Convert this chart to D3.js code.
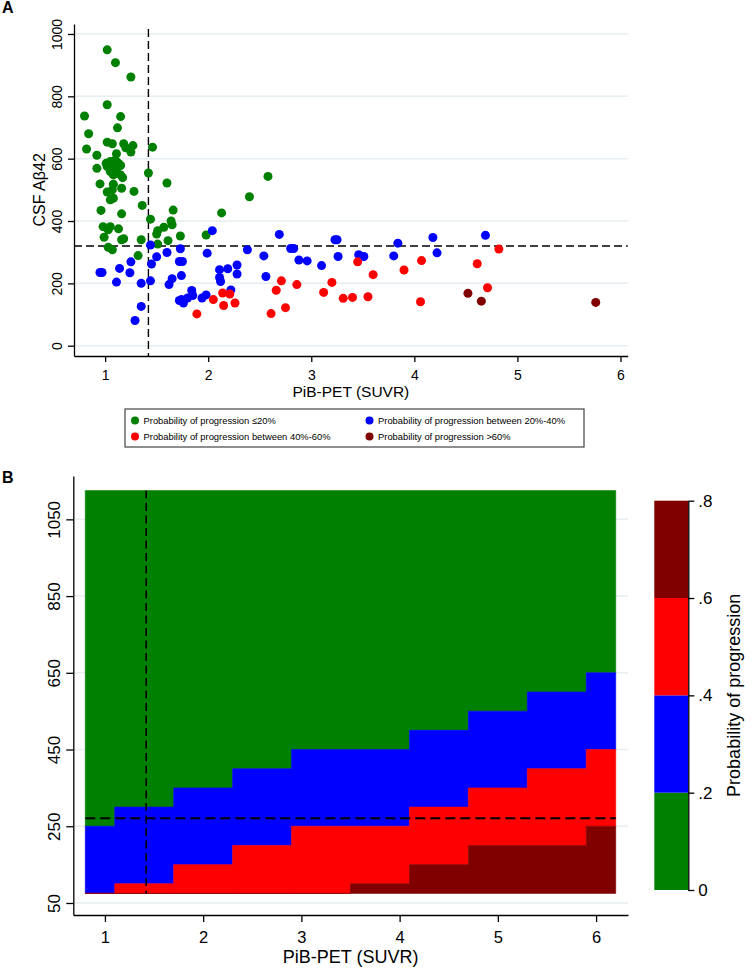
<!DOCTYPE html>
<html>
<head>
<meta charset="utf-8">
<script src="https://cdn.jsdelivr.net/npm/d3@7"></script>
<style>
  body { margin: 0; background: #fff; }
  text { font-family: "Liberation Sans", Arial, sans-serif; fill: #000; }
</style>
</head>
<body>
<svg id="chart" width="753" height="970"></svg>
<script>
// panel A : [PiB-PET SUVR, CSF Abeta42]
const lowRisk = [
  [1.02,949],[1.10,908],[1.25,862],[1.02,773],[0.80,737],[1.15,735],[1.12,699],[0.84,680],
  [1.02,653],[1.07,648],[1.18,648],[1.27,642],[1.20,635],[0.82,631],[1.46,637],[1.25,621],
  [1.11,616],[0.92,611],[1.05,591],[1.10,596],[1.07,580],[1.13,585],[1.02,575],[1.15,578],
  [1.11,564],[1.05,559],[1.10,553],[1.15,548],[1.08,548],[1.17,539],[1.01,585],[0.92,569],
  [1.42,554],[1.60,522],[0.95,519],[2.58,543],[2.40,478],[1.08,518],[1.16,505],[1.02,493],
  [1.07,500],[1.28,495],[1.05,468],[1.08,473],[1.36,450],[0.96,434],[1.16,423],[2.13,426],
  [1.66,435],[1.44,406],[1.64,400],[1.65,388],[0.98,382],[1.05,382],[1.03,372],[1.13,375],
  [1.51,369],[1.50,358],[1.57,380],[0.99,348],[1.18,343],[1.16,340],[1.35,340],[1.61,337],
  [1.73,352],[1.98,355],[1.51,326],[1.03,316],[1.07,308],[1.32,289]
]
const midRisk = [
  [2.04,369],[2.69,357],[3.23,340],[3.25,340],[1.44,323],[1.73,311],[2.38,308],[2.80,312],
  [2.83,312],[1.60,299],[1.99,297],[1.50,285],[2.54,288],[2.88,275],[2.96,272],[3.26,286],
  [3.46,292],[3.51,286],[1.25,269],[1.45,262],[1.72,270],[1.75,270],[3.10,257],[2.28,259],
  [0.97,235],[0.95,235],[1.14,248],[1.24,234],[2.11,244],[2.19,247],[2.11,219],[2.12,206],
  [2.28,230],[1.74,225],[2.56,222],[1.65,215],[1.44,208],[1.11,204],[1.35,200],[1.62,196],
  [1.84,177],[1.85,161],[1.80,153],[1.74,148],[1.76,137],[1.72,145],[1.94,153],[1.98,163],
  [2.22,179],[1.35,126],[1.29,81],[3.84,329],[3.80,288],[4.18,347],[4.22,298],[4.69,354]
]
const highRisk = [
  [3.45,269],[2.71,208],[3.20,203],[2.86,196],[2.66,178],[2.14,169],[2.21,166],[3.12,171],
  [2.05,148],[3.31,152],[3.40,155],[2.26,137],[2.15,129],[2.75,122],[1.89,102],[2.61,103],
  [3.55,157],[3.60,228],[3.90,243],[4.07,273],[4.06,141],[4.61,263],[4.71,186],[4.82,310]
]
const veryHighRisk = [[4.52,168],[4.65,143],[5.76,139]]

const legendLabels = [
  'Probability of progression \u226420%',
  'Probability of progression between 20%-40%',
  'Probability of progression between 40%-60%',
  'Probability of progression >60%'
]
const colors = ['#008000', '#0000ff', '#ff0000', '#800000']

const pibCut = 1.42
const csfCutA = 320
const csfCutB = 271

const xTicks = [1, 2, 3, 4, 5, 6]
const yTicksA = [0, 200, 400, 600, 800, 1000]
const yTicksB = [50, 250, 450, 650, 850, 1050]

// panel B : predicted probability grid, one column per PiB value
const gridPib = [0.8, 1.4, 2.0, 2.6, 3.2, 3.8, 4.4, 5.0, 5.6, 6.2]
const gridLow = 75, gridHigh = 1125
const darkTop = [75, 75, 75, 75, 75, 100, 150, 200, 200, 250]   // >.6
const redTop  = [75, 100, 150, 200, 250, 250, 300, 350, 400, 450] // .4-.6
const blueTop = [250, 300, 350, 400, 450, 450, 500, 550, 600, 650] // .2-.4

const barBreaks = [0, 0.2, 0.4, 0.6, 0.8]
const barLabels = ['0', '.2', '.4', '.6', '.8']

const svg = d3.select('#chart')
const gridColor = '#e6eef1'
const fmt = d3.format('d')

// ---------------- panel A ----------------
const xA = d3.scaleLinear().domain([0.698, 6.07]).range([74, 627.7])
const yA = d3.scaleLinear().domain([-33, 1032]).range([356, 24])

const gA = svg.append('g')
gA.selectAll('line.grid')
  .data(yTicksA)
  .enter().append('line')
  .attr('x1', xA.range()[0]).attr('x2', xA.range()[1])
  .attr('y1', d => yA(d)).attr('y2', d => yA(d))
  .attr('stroke', gridColor).attr('stroke-width', 1.5)

const axA = gA.append('g')
  .attr('transform', `translate(${xA.range()[0]},0)`)
  .call(d3.axisLeft(yA).tickValues(yTicksA).tickFormat(fmt).tickSize(6).tickSizeOuter(0))
axA.selectAll('text')
  .attr('transform', 'rotate(-90)')
  .attr('x', 0).attr('y', -12.5).attr('dy', 0)
  .attr('text-anchor', 'middle')
  .style('font-size', '14px')
  .style('font-family', '"Liberation Sans", Arial, sans-serif')

const axAx = gA.append('g')
  .attr('transform', `translate(0,${yA.range()[0]})`)
  .call(d3.axisBottom(xA).tickValues(xTicks).tickFormat(fmt).tickSize(6).tickSizeOuter(0))
axAx.selectAll('text')
  .attr('y', 14)
  .style('font-size', '14px')
  .style('font-family', '"Liberation Sans", Arial, sans-serif')

gA.append('text')
  .attr('x', (xA.range()[0] + xA.range()[1]) / 2).attr('y', 397)
  .attr('text-anchor', 'middle').style('font-size', '15.5px')
  .text('PiB-PET (SUVR)')
gA.append('text')
  .attr('transform', `translate(45,${yA(500)}) rotate(-90)`)
  .attr('text-anchor', 'middle').style('font-size', '16px')
  .text('CSF A\u03b242')

// reference lines
gA.append('line')
  .attr('x1', xA(pibCut)).attr('x2', xA(pibCut))
  .attr('y1', 29).attr('y2', yA.range()[0])
  .attr('stroke', '#000').attr('stroke-width', 1.4).attr('stroke-dasharray', '8,4')
gA.append('line')
  .attr('x1', xA.range()[0]).attr('x2', xA.range()[1])
  .attr('y1', yA(csfCutA)).attr('y2', yA(csfCutA))
  .attr('stroke', '#000').attr('stroke-width', 1.4).attr('stroke-dasharray', '8,4')

const groups = [lowRisk, midRisk, highRisk, veryHighRisk]
groups.forEach((pts, i) => {
  gA.append('g').selectAll('circle')
    .data(pts)
    .enter().append('circle')
    .attr('cx', d => xA(d[0]))
    .attr('cy', d => yA(d[1]))
    .attr('r', 4.5)
    .attr('fill', colors[i])
})

// legend
const lg = svg.append('g')
lg.append('rect')
  .attr('x', 125).attr('y', 409).attr('width', 459).attr('height', 38)
  .attr('fill', '#fff').attr('stroke', '#444').attr('stroke-width', 1.2)
legendLabels.forEach((t, i) => {
  const cx = i % 2 === 0 ? 135 : 369.5
  const cy = i < 2 ? 420.5 : 436.5
  lg.append('circle').attr('cx', cx).attr('cy', cy).attr('r', 4).attr('fill', colors[i])
  lg.append('text').attr('x', cx + 8.5).attr('y', cy).attr('dy', '0.35em')
    .style('font-size', '9.4px').text(t)
})

// panel labels
svg.append('text').attr('x', 2).attr('y', 13).style('font-size', '16px')
  .style('font-weight', 'bold').text('A')
svg.append('text').attr('x', 2).attr('y', 483).style('font-size', '16px')
  .style('font-weight', 'bold').text('B')

// ---------------- panel B ----------------
const xB = d3.scaleLinear().domain([0.678, 6.325]).range([73.3, 628])
const yB = d3.scaleLinear().domain([18.7, 1163]).range([915, 476])

const gB = svg.append('g')
gB.selectAll('line.grid')
  .data(yTicksB)
  .enter().append('line')
  .attr('x1', xB.range()[0]).attr('x2', xB.range()[1])
  .attr('y1', d => yB(d)).attr('y2', d => yB(d))
  .attr('stroke', gridColor).attr('stroke-width', 1.5)

// contour cells, drawn as one step-shaped band per colour
const half = (gridPib[1] - gridPib[0]) / 2
const edges = gridPib.map((p, i) => [Math.max(gridPib[0], p - half),
  Math.min(gridPib[gridPib.length - 1], p + half)])
function bandPath(lower, upper) {
  const top = [], bottom = []
  edges.forEach((e, i) => {
    top.push([xB(e[0]), yB(upper[i])], [xB(e[1]), yB(upper[i])])
    bottom.push([xB(e[0]), yB(lower[i])], [xB(e[1]), yB(lower[i])])
  })
  return d3.line()(top.concat(bottom.reverse())) + 'Z'
}
const lowArr = gridPib.map(() => gridLow)
const highArr = gridPib.map(() => gridHigh)
const bands = [
  [blueTop, highArr],
  [redTop, blueTop],
  [darkTop, redTop],
  [lowArr, darkTop]
]
gB.append('g').selectAll('path')
  .data(bands)
  .enter().append('path')
  .attr('d', d => bandPath(d[0], d[1]))
  .attr('fill', (d, i) => colors[i])
  .attr('stroke', (d, i) => colors[i])
  .attr('stroke-width', 0.6)
  .attr('stroke-linejoin', 'miter')

const axB = gB.append('g')
  .attr('transform', `translate(${xB.range()[0]},0)`)
  .call(d3.axisLeft(yB).tickValues(yTicksB).tickFormat(fmt).tickSize(7).tickSizeOuter(0))
axB.selectAll('text')
  .attr('transform', 'rotate(-90)')
  .attr('x', 0).attr('y', -13.5).attr('dy', 0)
  .attr('text-anchor', 'middle')
  .style('font-size', '17px')
  .style('font-family', '"Liberation Sans", Arial, sans-serif')

const axBx = gB.append('g')
  .attr('transform', `translate(0,${yB.range()[0]})`)
  .call(d3.axisBottom(xB).tickValues(xTicks).tickFormat(fmt).tickSize(7).tickSizeOuter(0))
axBx.selectAll('text')
  .attr('y', 16)
  .style('font-size', '16.5px')
  .style('font-family', '"Liberation Sans", Arial, sans-serif')

gB.append('text')
  .attr('x', (xB.range()[0] + xB.range()[1]) / 2).attr('y', 963)
  .attr('text-anchor', 'middle').style('font-size', '18px')
  .text('PiB-PET (SUVR)')

gB.append('line')
  .attr('x1', xB(pibCut)).attr('x2', xB(pibCut))
  .attr('y1', yB(gridHigh)).attr('y2', yB(gridLow))
  .attr('stroke', '#000').attr('stroke-width', 1.6).attr('stroke-dasharray', '8,4.5')
gB.append('line')
  .attr('x1', xB(gridPib[0])).attr('x2', xB(gridPib[gridPib.length - 1]))
  .attr('y1', yB(csfCutB)).attr('y2', yB(csfCutB))
  .attr('stroke', '#000').attr('stroke-width', 2).attr('stroke-dasharray', '10,5')

// colour bar
const yBar = d3.scaleLinear().domain([0, 0.8]).range([890, 500.7])
const barX = 654.3, barW = 34
const gC = svg.append('g')
gC.selectAll('rect')
  .data(d3.range(barBreaks.length - 1))
  .enter().append('rect')
  .attr('x', barX).attr('width', barW)
  .attr('y', i => yBar(barBreaks[i + 1]))
  .attr('height', i => yBar(barBreaks[i]) - yBar(barBreaks[i + 1]))
  .attr('fill', i => colors[i])
const axC = gC.append('g')
  .attr('transform', `translate(${barX + barW},0)`)
  .call(d3.axisRight(yBar).tickValues(barBreaks).tickFormat((d, i) => barLabels[i])
    .tickSize(6).tickSizeOuter(0))
axC.selectAll('text')
  .attr('x', 10)
  .style('font-size', '17px')
  .style('font-family', '"Liberation Sans", Arial, sans-serif')
gC.append('text')
  .attr('transform', `translate(740,${yBar(0.4)}) rotate(-90)`)
  .attr('text-anchor', 'middle').style('font-size', '18px')
  .text('Probability of progression')

svg.selectAll('.domain, .tick line').attr('stroke', '#000').attr('stroke-width', 1.3)
</script>
</body>
</html>
